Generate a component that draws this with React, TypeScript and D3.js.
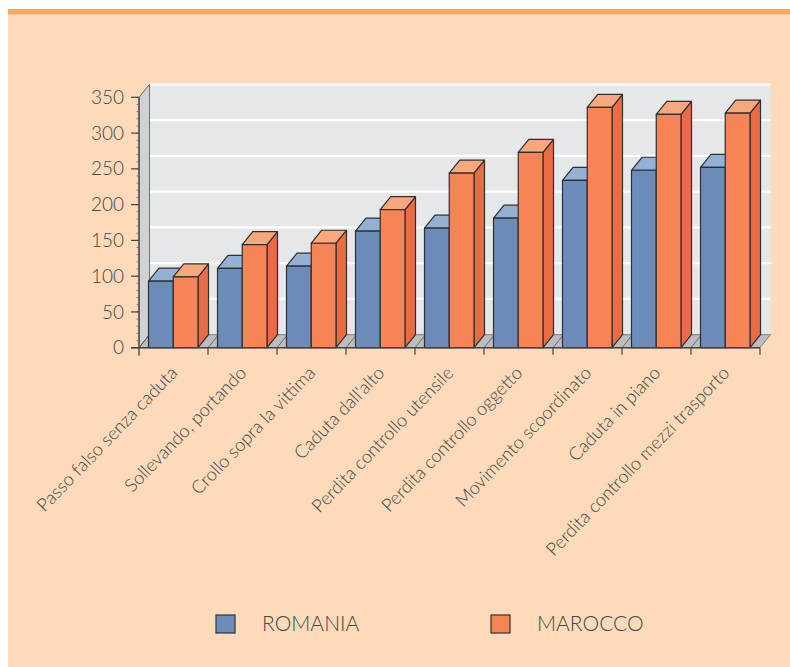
import React from "react";
import * as d3 from "d3";

const categories = [
  "Passo falso senza caduta",
  "Sollevando, portando",
  "Crollo sopra la vittima",
  "Caduta dall'alto",
  "Perdita controllo utensile",
  "Perdita controllo oggetto",
  "Movimento scoordinato",
  "Caduta in piano",
  "Perdita controllo mezzi trasporto",
];
const seriesNames = ["ROMANIA", "MAROCCO"];
const romania = [93, 111, 114, 163, 167, 181, 234, 248, 252];
const marocco = [99, 144, 146, 193, 244, 273, 336, 326, 328];
const yTicks = [0, 50, 100, 150, 200, 250, 300, 350];

const W = 790;
const H = 667;
const DX = 10.5;
const DY = 13;
const FONT = "Lato, 'Open Sans', sans-serif";
const TEXT = "#474747";

const colors = {
  ROMANIA: { front: "#6d8bb8", top: "#93b1d7", side: "#5a77a3" },
  MAROCCO: { front: "#f68556", top: "#f8a87c", side: "#e96c44" },
};

export default function App() {
  const x = d3.scaleBand<string>().domain(categories).range([139, 760]).padding(0);
  const xs = d3.scaleBand<string>().domain(seriesNames).range([9.5, 59]).padding(0);
  const y = d3.scaleLinear().domain([0, 350]).range([347.7, 97.3]);
  const y0 = y(0);
  const yTop = y(350);
  const xl = 139;
  const xr = 760;
  const minor = d3.range(0, 351, 10);

  const bar = (x0: number, w: number, v: number, c: { front: string; top: string; side: string }, key: string) => {
    const yt = y(v);
    const x1 = x0 + w;
    return (
      <g key={key} stroke="#2f2f2f" strokeWidth={1.2} strokeLinejoin="round">
        <path d={`M${x1},${y0}L${x1 + DX},${y0 - DY}L${x1 + DX},${yt - DY}L${x1},${yt}Z`} fill={c.side} />
        <path d={`M${x0},${yt}L${x0 + DX},${yt - DY}L${x1 + DX},${yt - DY}L${x1},${yt}Z`} fill={c.top} />
        <rect x={x0} y={yt} width={w} height={y0 - yt} fill={c.front} />
      </g>
    );
  };

  return (
    <svg width={W} height={H} style={{ position: "absolute", left: 0, top: 0 }}>
      <rect x={0} y={0} width={W} height={H} fill="#ffffff" />
      <rect x={8} y={9} width={W - 8} height={H - 9} fill="#fddab9" />
      <rect x={8} y={9} width={W - 8} height={5.5} fill="#f9a660" />

      {/* back wall */}
      <rect x={xl + DX} y={yTop - DY} width={xr - xl} height={y0 - yTop} fill="#e6e7e9" />
      {yTicks.slice(1).map((t) => (
        <line key={t} x1={xl + DX} x2={xr + DX} y1={y(t) - DY} y2={y(t) - DY} stroke="#ffffff" strokeWidth={2.2} />
      ))}
      {/* side wall */}
      <path d={`M${xl},${yTop}L${xl + DX},${yTop - DY}L${xl + DX},${y0 - DY}L${xl},${y0}Z`} fill="#d0d1d3" stroke="#555" strokeWidth={0.8} />
      {/* floor */}
      <path d={`M${xl},${y0}L${xl + DX},${y0 - DY}L${xr + DX},${y0 - DY}L${xr},${y0}Z`} fill="#bcbdc0" stroke="#666" strokeWidth={0.8} />
      {categories.map((c) => (
        <line key={c} x1={x(c)!} x2={x(c)! + DX} y1={y0} y2={y0 - DY} stroke="#555" strokeWidth={0.8} />
      ))}

      {/* bars */}
      {categories.map((c, i) => (
        <g key={c}>
          {bar(x(c)! + xs("ROMANIA")!, xs.bandwidth(), romania[i], colors.ROMANIA, "r")}
          {bar(x(c)! + xs("MAROCCO")!, xs.bandwidth(), marocco[i], colors.MAROCCO, "m")}
        </g>
      ))}

      {/* axes */}
      <line x1={xl} x2={xl} y1={yTop} y2={y0 + 8} stroke="#444" strokeWidth={1.3} />
      <line x1={xl - 8} x2={xr} y1={y0} y2={y0} stroke="#444" strokeWidth={1.5} />
      {minor.map((t) => (
        <line key={t} x1={xl - 2.5} x2={xl} y1={y(t)} y2={y(t)} stroke="#666" strokeWidth={0.8} />
      ))}
      {yTicks.map((t) => (
        <g key={t}>
          <line x1={xl - 8} x2={xl} y1={y(t)} y2={y(t)} stroke="#444" strokeWidth={1.2} />
          <text x={124} y={y(t)} dy="0.35em" textAnchor="end" fontFamily={FONT} fontWeight={300} fontSize={19} fill={TEXT}>
            {t}
          </text>
        </g>
      ))}
      {categories.map((c) => (
        <line key={c} x1={x(c)! + x.bandwidth()} x2={x(c)! + x.bandwidth()} y1={y0} y2={y0 + 7} stroke="#444" strokeWidth={1.2} />
      ))}
      {categories.map((c) => {
        const cx = x(c)! + x.bandwidth() / 2 + 5;
        return (
          <text key={c} transform={`translate(${cx},374) rotate(-46)`} textAnchor="end" fontFamily={FONT} fontWeight={300} fontSize={18.2} fill={TEXT}>
            {c}
          </text>
        );
      })}

      {/* legend */}
      {seriesNames.map((s, i) => {
        const lx = i === 0 ? 216 : 491;
        return (
          <g key={s}>
            <rect x={lx} y={615} width={19} height={18} fill={colors[s as "ROMANIA"].front} stroke="#333" strokeWidth={1.2} />
            <text x={lx + 46} y={631} fontFamily={FONT} fontWeight={300} fontSize={21} fill={TEXT}>
              {s}
            </text>
          </g>
        );
      })}
    </svg>
  );
}
